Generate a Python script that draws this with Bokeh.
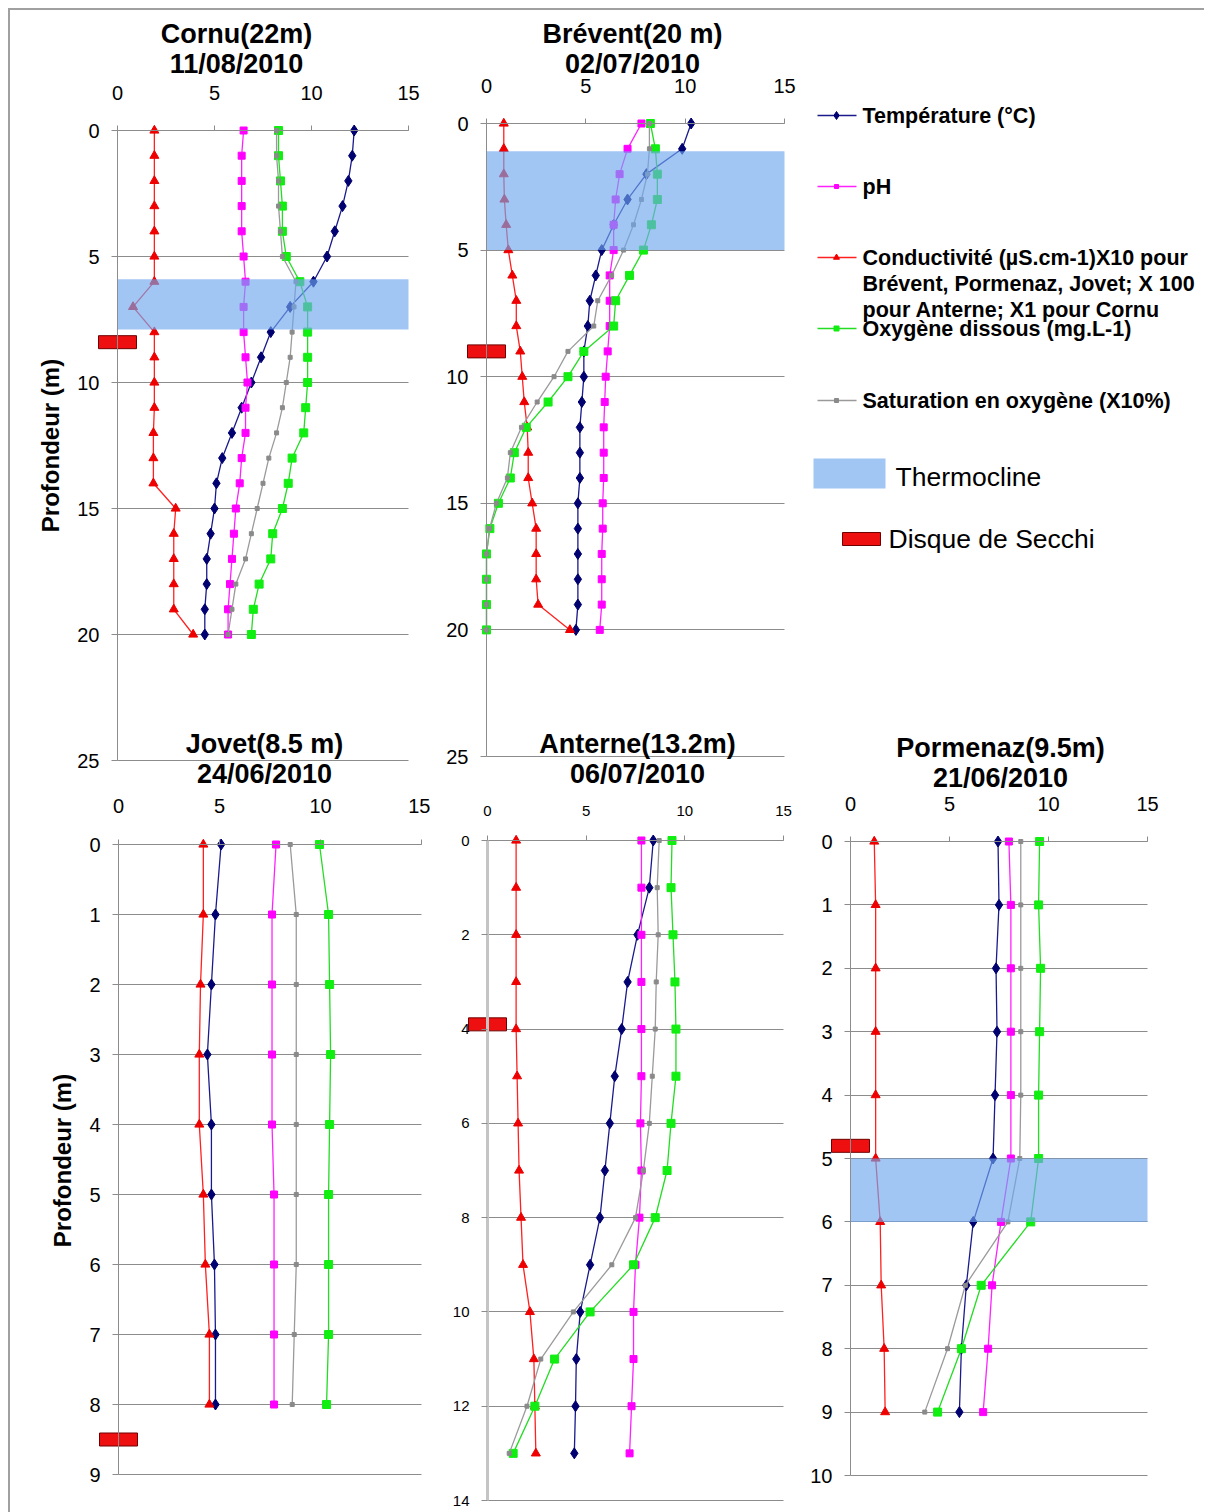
from bokeh.plotting import figure
from bokeh.models import Range1d, FixedTicker, Label
from bokeh.layouts import row, column
from bokeh.embed import file_html
from bokeh.resources import INLINE

FONT = "Liberation Sans"
GRID = "#8c8c8c"
X_TICKS = [0, 5, 10, 15]

# ---------------- data ----------------
# Cornu (22 m) 11/08/2010
cornu_depth = [0, 1, 2, 3, 4, 5, 6, 7, 8, 9, 10, 11, 12, 13, 14, 15, 16, 17, 18, 19, 20]
cornu_temp = [12.2, 12.1, 11.9, 11.6, 11.2, 10.8, 10.1, 8.9, 7.9, 7.4, 6.9, 6.4, 5.9, 5.4, 5.1, 5.0, 4.8, 4.6, 4.6, 4.5, 4.5]
cornu_ph = [6.5, 6.4, 6.4, 6.4, 6.4, 6.5, 6.6, 6.5, 6.5, 6.6, 6.7, 6.6, 6.6, 6.4, 6.3, 6.1, 6.0, 5.9, 5.8, 5.7, 5.7]
cornu_cond = [1.9, 1.9, 1.9, 1.9, 1.9, 1.9, 1.9, 0.8, 1.9, 1.9, 1.9, 1.9, 1.85, 1.85, 1.85, 3.0, 2.9, 2.9, 2.9, 2.9, 3.9]
cornu_o2 = [8.3, 8.3, 8.4, 8.5, 8.5, 8.7, 9.4, 9.8, 9.8, 9.8, 9.8, 9.7, 9.6, 9.0, 8.8, 8.5, 8.0, 7.9, 7.3, 7.0, 6.9]
cornu_sat = [8.2, 8.2, 8.3, 8.3, 8.4, 8.5, 9.2, 9.1, 9.0, 8.9, 8.7, 8.5, 8.2, 7.8, 7.5, 7.2, 6.9, 6.6, 6.1, 5.9, 5.7]

# Brévent (20 m) 02/07/2010
brev_depth = [0, 1, 2, 3, 4, 5, 6, 7, 8, 9, 10, 11, 12, 13, 14, 15, 16, 17, 18, 19, 20]
brev_temp = [10.3, 9.85, 8.05, 7.1, 6.4, 5.8, 5.5, 5.2, 5.1, 4.9, 4.9, 4.8, 4.7, 4.7, 4.7, 4.6, 4.6, 4.6, 4.6, 4.6, 4.5]
brev_ph = [7.8, 7.1, 6.7, 6.5, 6.4, 6.4, 6.2, 6.2, 6.2, 6.1, 6.0, 5.95, 5.9, 5.9, 5.9, 5.85, 5.85, 5.8, 5.8, 5.8, 5.7]
brev_cond = [0.87, 0.87, 0.87, 0.9, 0.99, 1.1, 1.3, 1.5, 1.5, 1.7, 1.8, 1.9, 2.05, 2.1, 2.1, 2.3, 2.5, 2.5, 2.5, 2.6, 4.2]
brev_o2 = [8.25, 8.5, 8.6, 8.6, 8.3, 7.9, 7.2, 6.5, 6.4, 4.9, 4.1, 3.1, 2.0, 1.4, 1.2, 0.6, 0.17, 0.0, 0.0, 0.0, 0.0]
brev_sat = [8.2, 8.2, 8.1, 7.8, 7.4, 6.9, 6.3, 5.6, 5.4, 4.1, 3.4, 2.55, 1.76, 1.2, 1.05, 0.5, 0.15, 0.0, 0.0, 0.0, 0.0]

# Jovet (8.5 m) 24/06/2010
jov_depth = [0, 1, 2, 3, 4, 5, 6, 7, 8]
jov_temp = [5.08, 4.8, 4.6, 4.4, 4.6, 4.6, 4.75, 4.8, 4.8]
jov_ph = [7.8, 7.6, 7.6, 7.6, 7.6, 7.7, 7.7, 7.7, 7.7]
jov_cond = [4.2, 4.2, 4.06, 4.0, 4.0, 4.2, 4.3, 4.5, 4.5]
jov_o2 = [9.95, 10.4, 10.45, 10.5, 10.45, 10.4, 10.4, 10.4, 10.3]
jov_sat = [8.5, 8.8, 8.8, 8.8, 8.8, 8.8, 8.8, 8.7, 8.6]

# Anterne (13.2 m) 06/07/2010
ant_depth = [0, 1, 2, 3, 4, 5, 6, 7, 8, 9, 10, 11, 12, 13]
ant_temp = [8.4, 8.2, 7.6, 7.1, 6.8, 6.45, 6.2, 5.95, 5.7, 5.2, 4.7, 4.5, 4.46, 4.4]
ant_ph = [7.8, 7.8, 7.8, 7.8, 7.8, 7.8, 7.75, 7.8, 7.7, 7.5, 7.4, 7.4, 7.3, 7.2]
ant_cond = [1.45, 1.45, 1.45, 1.45, 1.45, 1.5, 1.55, 1.6, 1.7, 1.8, 2.15, 2.35, 2.4, 2.45]
ant_o2 = [9.35, 9.3, 9.4, 9.5, 9.55, 9.55, 9.3, 9.1, 8.5, 7.4, 5.2, 3.4, 2.4, 1.3]
ant_sat = [8.7, 8.6, 8.65, 8.55, 8.5, 8.35, 8.2, 7.9, 7.5, 6.3, 4.35, 2.7, 2.0, 1.1]

# Pormenaz (9.5 m) 21/06/2010
porm_depth = [0, 1, 2, 3, 4, 5, 6, 7, 8, 9]
porm_temp = [7.45, 7.5, 7.35, 7.4, 7.3, 7.2, 6.2, 5.85, 5.6, 5.5]
porm_ph = [8.0, 8.1, 8.1, 8.1, 8.1, 8.1, 7.6, 7.15, 6.95, 6.7]
porm_cond = [1.2, 1.27, 1.27, 1.27, 1.27, 1.27, 1.5, 1.55, 1.7, 1.75]
porm_o2 = [9.55, 9.5, 9.6, 9.55, 9.5, 9.5, 9.1, 6.6, 5.6, 4.4]
porm_sat = [8.6, 8.6, 8.6, 8.6, 8.6, 8.55, 7.95, 5.8, 4.9, 3.75]

# thermocline (top, bottom depth) and Secchi depth
cornu_thermo = [5.9, 7.9]
brev_thermo = [1.1, 5.0]
porm_thermo = [5.0, 6.0]
secchi_cornu = [8.4]
secchi_brev = [9.0]
secchi_jov = [8.5]
secchi_ant = [3.9]
secchi_porm = [4.8]

titles = {
    "cornu": ["Cornu(22m)", "11/08/2010"],
    "brev": ["Brévent(20 m)", "02/07/2010"],
    "jov": ["Jovet(8.5 m)", "24/06/2010"],
    "ant": ["Anterne(13.2m)", "06/07/2010"],
    "porm": ["Pormenaz(9.5m)", "21/06/2010"],
}

legend_labels = ["Température (°C)", "pH",
                 ["Conductivité (µS.cm-1)X10  pour", "Brévent,  Pormenaz, Jovet; X 100", "pour Anterne; X1 pour Cornu"],
                 "Oxygène dissous (mg.L-1)", "Saturation en oxygène (X10%)"]

# ---------------- styles ----------------
STY = [
    dict(line="#1a1a8c", fill="#000070", marker="diamond", size=11),   # temperature
    dict(line="#ff22ff", fill="#ff00ff", marker="square", size=7),     # pH
    dict(line="#ff2020", fill="#ee0000", marker="triangle", size=9),   # conductivity
    dict(line="#22dd22", fill="#11ee11", marker="square", size=8),     # O2
    dict(line="#9a9a9a", fill="#8a8a8a", marker="square", size=4),     # saturation
]
BAND_COLOR = "#6fa8ee"
BAND_ALPHA = 0.65
SECCHI_FILL = "#ee1010"
SECCHI_LINE = "#700000"


class Geo:
    """fig box (window px), x=0 / x=15 px, depth 0 / depth ymax px"""
    def __init__(self, fx0, fy0, fw, fh, x0, x15, ft, fb, ymax):
        self.fx0, self.fy0, self.fw, self.fh = fx0, fy0, fw, fh
        self.x0, self.x15, self.ft, self.fb, self.ymax = x0, x15, ft, fb, ymax
        self.u = (x15 - x0) / 15.0

    def dx(self, wx):
        return (wx - self.x0) / self.u

    def dy(self, wy):
        return (wy - self.ft) / (self.fb - self.ft) * self.ymax


def add_text(p, x, y, text, size, bold=False, align="center", angle=0):
    p.add_layout(Label(x=x, y=y, text=text, text_font=FONT, text_font_size=f"{size}px",
                       text_font_style="bold" if bold else "normal", text_align=align,
                       text_baseline="middle", angle=angle, angle_units="deg",
                       text_color="#000000"))


def panel(g, depth, series, ystep, grid_max, secchi, thermo, tick_size, xstand, yaxis_w=1, yaxis_c=GRID):
    p = figure(width=g.fw, height=g.fh,
               x_range=Range1d(g.dx(g.fx0), g.dx(g.fx0 + g.fw)),
               y_range=Range1d(g.dy(g.fy0 + g.fh), g.dy(g.fy0)),
               x_axis_location="above", output_backend="svg", toolbar_location=None,
               min_border=0)
    p.outline_line_color = None
    p.background_fill_color = "white"
    p.border_fill_color = "white"
    yt = list(range(0, g.ymax + 1, ystep))

    xa = p.xaxis[0]
    xa.fixed_location = 0
    xa.ticker = FixedTicker(ticks=X_TICKS)
    xa.bounds = (0, 15)
    xa.major_tick_in = 0
    xa.major_tick_out = 5
    xa.minor_tick_line_color = None
    xa.axis_line_color = GRID
    xa.major_tick_line_color = GRID
    xa.major_label_text_font = FONT
    xa.major_label_text_font_size = f"{tick_size}px"
    xa.major_label_text_color = "#000000"
    xa.major_label_standoff = xstand

    ya = p.yaxis[0]
    ya.fixed_location = 0
    ya.ticker = FixedTicker(ticks=yt)
    ya.bounds = (0, g.ymax)
    ya.major_tick_in = 0
    ya.major_tick_out = 6
    ya.minor_tick_line_color = None
    ya.axis_line_color = yaxis_c
    ya.axis_line_width = yaxis_w
    ya.major_tick_line_color = GRID
    ya.major_label_text_font = FONT
    ya.major_label_text_font_size = f"{tick_size}px"
    ya.major_label_text_color = "#000000"
    ya.major_label_standoff = 12

    p.xgrid.visible = False
    p.ygrid.ticker = FixedTicker(ticks=yt)
    p.ygrid.bounds = (0, grid_max)
    p.ygrid.grid_line_color = GRID
    p.ygrid.grid_line_width = 1
    p.ygrid.cross_bounds = (0, 15)

    for vals, st in zip(series, STY):
        p.line(x=vals, y=depth, line_color=st["line"], line_width=1.3)
        p.scatter(x=vals, y=depth, marker=st["marker"], size=st["size"],
                  fill_color=st["fill"], line_color=st["fill"])
    if thermo is not None:
        p.quad(left=[0], right=[15], top=[thermo[0]], bottom=[thermo[1]],
               fill_color=BAND_COLOR, fill_alpha=BAND_ALPHA, line_color=None)
    p.rect(x=[0], y=secchi, width=38, height=13, width_units="screen", height_units="screen",
           fill_color=SECCHI_FILL, line_color=SECCHI_LINE)
    return p


# geometry (window px): fig x0, y0, w, h, x=0, x=15, depth0, depthmax, ymax
g_cornu = Geo(10, 10, 420, 782, 117, 408, 130, 760, 25)
g_brev = Geo(430, 10, 370, 782, 486, 784, 123, 756, 25)
g_jov = Geo(10, 792, 420, 720, 118, 421, 844, 1474, 9)
g_ant = Geo(430, 792, 370, 720, 487, 783, 840, 1500, 14)
g_porm = Geo(800, 792, 404, 720, 850, 1147, 841, 1475, 10)

p_cornu = panel(g_cornu, cornu_depth, [cornu_temp, cornu_ph, cornu_cond, cornu_o2, cornu_sat],
                5, 20, secchi_cornu, cornu_thermo, 20, 26)
p_brev = panel(g_brev, brev_depth, [brev_temp, brev_ph, brev_cond, brev_o2, brev_sat],
               5, 20, secchi_brev, brev_thermo, 20, 26)
p_jov = panel(g_jov, jov_depth, [jov_temp, jov_ph, jov_cond, jov_o2, jov_sat],
              1, 8, secchi_jov, None, 20, 27)
p_ant = panel(g_ant, ant_depth, [ant_temp, ant_ph, ant_cond, ant_o2, ant_sat],
              2, 12, secchi_ant, None, 15, 20, yaxis_w=3, yaxis_c="#c4c4c4")
p_porm = panel(g_porm, porm_depth, [porm_temp, porm_ph, porm_cond, porm_o2, porm_sat],
               1, 9, secchi_porm, porm_thermo, 20, 26)

TS = 27
# titles of top panels
for g, p, key, cx in [(g_cornu, p_cornu, "cornu", 236), (g_brev, p_brev, "brev", 632)]:
    add_text(p, g.dx(cx), g.dy(33), titles[key][0], TS, bold=True)
    add_text(p, g.dx(cx), g.dy(63), titles[key][1], TS, bold=True)
# titles of bottom panels (drawn in the canvas just above them)
add_text(p_cornu, g_cornu.dx(264), g_cornu.dy(743), titles["jov"][0], TS, bold=True)
add_text(p_cornu, g_cornu.dx(264), g_cornu.dy(773), titles["jov"][1], TS, bold=True)
add_text(p_brev, g_brev.dx(637), g_brev.dy(743), titles["ant"][0], TS, bold=True)
add_text(p_brev, g_brev.dx(637), g_brev.dy(773), titles["ant"][1], TS, bold=True)
# depth axis titles
add_text(p_cornu, g_cornu.dx(50), g_cornu.dy(445), "Profondeur (m)", 24, bold=True, angle=90)
add_text(p_jov, g_jov.dx(62), g_jov.dy(1160), "Profondeur (m)", 24, bold=True, angle=90)

# ---------------- legend canvas ----------------
lg = figure(width=404, height=782, x_range=Range1d(800, 1204), y_range=Range1d(792, 10),
            x_axis_type=None, y_axis_type=None, output_backend="svg", toolbar_location=None,
            min_border=0)
lg.outline_line_color = None
lg.grid.visible = False
lg.background_fill_color = "white"

add_text(lg, 1000, 747, titles["porm"][0], TS, bold=True)
add_text(lg, 1000, 777, titles["porm"][1], TS, bold=True)

leg_y = [115, 186, 257, 328, 400]
for st, ly, lab in zip(STY, leg_y, legend_labels):
    lg.line(x=[817, 856], y=[ly, ly], line_color=st["line"], line_width=1.3)
    lg.scatter(x=[836], y=[ly], marker=st["marker"], size=max(st["size"] - 3, 4),
               fill_color=st["fill"], line_color=st["fill"])
    if isinstance(lab, list):
        for i, t in enumerate(lab):
            add_text(lg, 862, ly + 26 * i, t, 21.5, bold=True, align="left")
    else:
        add_text(lg, 862, ly, lab, 21.5, bold=True, align="left")

lg.quad(left=[813], right=[885], top=[458], bottom=[488], fill_color=BAND_COLOR,
        fill_alpha=BAND_ALPHA, line_color=None)
add_text(lg, 895, 476, "Thermocline", 26.5, align="left")
lg.quad(left=[842], right=[880], top=[532], bottom=[545], fill_color=SECCHI_FILL,
        line_color=SECCHI_LINE)
add_text(lg, 888, 538, "Disque de Secchi", 26.5, align="left")

layout = column(row(p_cornu, p_brev, lg), row(p_jov, p_ant, p_porm),
                styles={"margin-top": "8px", "margin-left": "8px",
                        "border-top": "2px solid #a0a0a0", "border-left": "2px solid #a0a0a0"})

open("out.html", "w").write(file_html(layout, INLINE))
